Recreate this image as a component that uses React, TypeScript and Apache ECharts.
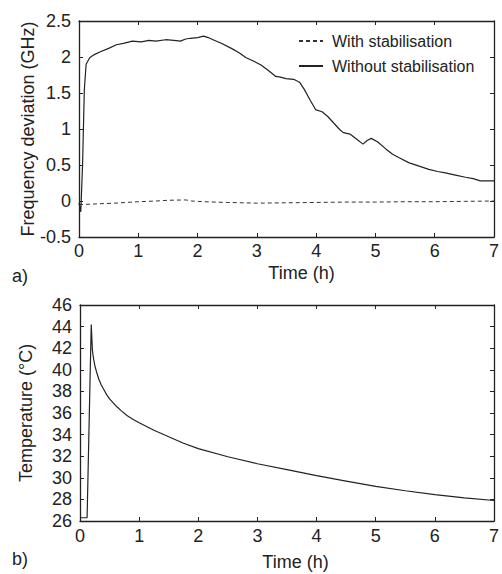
import { useEffect, useRef } from "react";
import * as echarts from "echarts";

// ---- Data ----
const seriesNames = ["With stabilisation", "Without stabilisation"];

const timeWithout = [
  0, 0.03, 0.06, 0.09, 0.12, 0.18, 0.25, 0.35, 0.5, 0.63, 0.75, 0.9, 1.05, 1.18, 1.3, 1.46, 1.6, 1.71,
  1.8, 1.88, 2.0, 2.1, 2.18, 2.29, 2.4, 2.57, 2.7, 2.82, 2.95, 3.07, 3.2, 3.32, 3.4, 3.49, 3.62, 3.72,
  3.8, 3.9, 3.99, 4.1, 4.2, 4.3, 4.4, 4.46, 4.57, 4.68, 4.79, 4.86, 4.93, 5.04, 5.18, 5.29, 5.4, 5.57,
  5.75, 5.9, 6.05, 6.18, 6.35, 6.52, 6.65, 6.77, 7.0,
];
const freqWithout = [
  -0.03, -0.15, 0.5, 1.55, 1.9, 1.99, 2.03, 2.07, 2.12, 2.17, 2.19, 2.22, 2.21, 2.23, 2.22, 2.24, 2.23, 2.22,
  2.25, 2.26, 2.27, 2.29, 2.27, 2.23, 2.19, 2.12, 2.06, 1.99, 1.94, 1.89, 1.81, 1.73, 1.72, 1.7, 1.69, 1.65,
  1.55, 1.4, 1.27, 1.24, 1.17, 1.08, 0.99, 0.95, 0.93, 0.86, 0.79, 0.84, 0.87, 0.82, 0.72, 0.65, 0.6, 0.53,
  0.48, 0.44, 0.41, 0.39, 0.36, 0.33, 0.31, 0.28, 0.28,
];

const timeWith = [0, 0.3, 0.6, 1.0, 1.3, 1.5, 1.8, 1.9, 2.1, 2.5, 3.0, 3.5, 4.0, 4.5, 5.0, 5.5, 6.0, 6.5, 7.0];
const freqWith = [
  -0.05, -0.04, -0.03, -0.01, 0.0, 0.01, 0.015, 0.0, -0.01, -0.02, -0.03, -0.025, -0.02, -0.015, -0.015,
  -0.01, -0.01, -0.005, 0.0,
];

const timeTemp = [
  0, 0.12, 0.19, 0.21, 0.23, 0.25, 0.28, 0.32, 0.36, 0.4, 0.45, 0.5, 0.6, 0.7, 0.8, 0.9, 1.0, 1.25, 1.5,
  1.75, 2.0, 2.5, 3.0, 3.5, 4.0, 4.5, 5.0, 5.5, 6.0, 6.5, 7.0,
];
const temperature = [
  26.3, 26.3, 44.2, 41.8, 41.0, 40.4, 39.8, 39.1, 38.6, 38.2, 37.7, 37.3, 36.7, 36.2, 35.75, 35.4, 35.1,
  34.4, 33.8, 33.2, 32.7, 31.95, 31.3, 30.75, 30.2, 29.7, 29.2, 28.8, 28.45, 28.15, 27.9,
];

const timeRange = { min: 0, max: 7, interval: 1 };
const freqRange = { min: -0.5, max: 2.5, interval: 0.5 };
const tempRange = { min: 26, max: 46, interval: 2 };

const xTitle = "Time (h)";
const yTitleTop = "Frequency deviation (GHz)";
const yTitleBottom = "Temperature (°C)";
const panelLabels = ["a)", "b)"];

const zip = (xs: number[], ys: number[]) => xs.map((x, i) => [x, ys[i]]);

export default function App() {
  const ref = useRef<HTMLDivElement>(null);

  useEffect(() => {
    const chart = echarts.init(ref.current!, null, { renderer: "svg" });
    const font = "'Liberation Sans', Arial, Helvetica, sans-serif";
    const ink = "#222";

    const axisLine = { show: true, onZero: false, lineStyle: { color: ink, width: 1.3 } };
    const tick = { show: true, inside: true, length: 4, lineStyle: { color: ink, width: 1 } };

    const xMain = (gridIndex: number, labelMargin: number, nameGap: number, pad: number) => ({
      type: "value",
      gridIndex,
      position: "bottom",
      ...timeRange,
      axisLine,
      axisTick: tick,
      splitLine: { show: false },
      axisLabel: { color: ink, fontSize: 18, lineHeight: 17, fontFamily: font, margin: labelMargin },
      name: xTitle,
      nameLocation: "middle",
      nameGap,
      nameMoveOverlap: false,
      nameTextStyle: { color: ink, fontSize: 18, lineHeight: 17, fontFamily: font, padding: [0, 0, 0, pad] },
    });
    const xMirror = (gridIndex: number) => ({
      type: "value",
      gridIndex,
      position: "top",
      ...timeRange,
      axisLine,
      axisTick: tick,
      axisLabel: { show: false },
      splitLine: { show: false },
    });
    const yMain = (gridIndex: number, range: any, name: string, nameGap: number) => ({
      type: "value",
      gridIndex,
      position: "left",
      ...range,
      axisLine,
      axisTick: tick,
      splitLine: { show: false },
      axisLabel: { color: ink, fontSize: 18, fontFamily: font, margin: 8 },
      name,
      nameLocation: "middle",
      nameGap,
      nameMoveOverlap: false,
      nameTextStyle: { color: ink, fontSize: 18, fontFamily: font },
    });
    const yMirror = (gridIndex: number, range: any) => ({
      type: "value",
      gridIndex,
      position: "right",
      ...range,
      axisLine,
      axisTick: tick,
      axisLabel: { show: false },
      splitLine: { show: false },
    });

    chart.setOption({
      animation: false,
      backgroundColor: "#fff",
      textStyle: { fontFamily: font },
      grid: [
        { left: 79, top: 21, width: 420, height: 216 },
        { left: 80, top: 305, width: 419, height: 216 },
      ],
      xAxis: [xMain(0, 5, 27, 30), xMirror(0), xMain(1, 6, 32, 17), xMirror(1)],
      yAxis: [
        yMain(0, freqRange, yTitleTop, 42),
        yMirror(0, freqRange),
        yMain(1, tempRange, yTitleBottom, 45),
        yMirror(1, tempRange),
      ],
      legend: {
        data: seriesNames,
        orient: "vertical",
        left: 298,
        top: 33,
        padding: 0,
        itemWidth: 24,
        itemHeight: 16,
        itemGap: 9,
        itemStyle: { color: "rgba(0,0,0,0)", borderWidth: 0, opacity: 0 },
        textStyle: { color: ink, fontSize: 16, fontFamily: font, padding: [0, 0, 0, 4] },
      },
      series: [
        {
          name: seriesNames[0],
          type: "line",
          xAxisIndex: 0,
          yAxisIndex: 0,
          symbol: "none",
          data: zip(timeWith, freqWith),
          lineStyle: { color: "#333", width: 1, type: [4, 3] },
          itemStyle: { color: ink },
        },
        {
          name: seriesNames[1],
          type: "line",
          xAxisIndex: 0,
          yAxisIndex: 0,
          symbol: "none",
          data: zip(timeWithout, freqWithout),
          lineStyle: { color: ink, width: 1.2 },
          itemStyle: { color: ink },
        },
        {
          name: "Temperature",
          type: "line",
          xAxisIndex: 2,
          yAxisIndex: 2,
          symbol: "none",
          data: zip(timeTemp, temperature),
          lineStyle: { color: ink, width: 1.2 },
          itemStyle: { color: ink },
        },
      ],
      graphic: [
        { type: "text", left: 12, top: 267, style: { text: panelLabels[0], fill: ink, font: `18px ${font}` } },
        { type: "text", left: 12, top: 550, style: { text: panelLabels[1], fill: ink, font: `18px ${font}` } },
      ],
    });

    return () => chart.dispose();
  }, []);

  return (
    <div
      ref={ref}
      style={{ position: "fixed", left: 0, top: 0, width: 502, height: 574, background: "#fff" }}
    />
  );
}
